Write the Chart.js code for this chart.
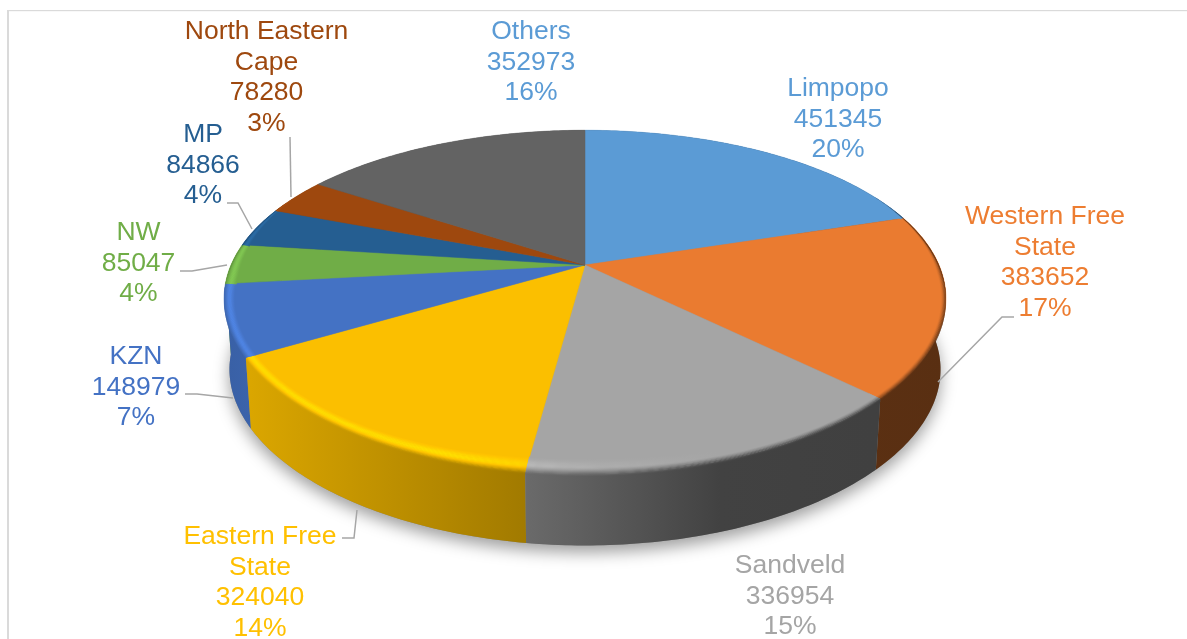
<!DOCTYPE html>
<html>
<head>
<meta charset="utf-8">
<title>Regions</title>
<script src="https://cdn.jsdelivr.net/npm/chart.js@4"></script>
<style>
    html, body { margin: 0; padding: 0; background: #fff; overflow: hidden; }
    canvas { display: block; }
</style>
</head>
<body>
<canvas id="region-chart" width="1187" height="639"></canvas>
<script>
const regions = ["Limpopo", "Western Free State", "Sandveld", "Eastern Free State", "KZN", "NW", "MP", "North Eastern Cape", "Others"];
const totals = [451345, 383652, 336954, 324040, 148979, 85047, 84866, 78280, 352973];
const sliceColors = ["#5B9BD5", "#EA7B30", "#A5A5A5", "#FBBF00", "#4472C4", "#70AD47", "#255E91", "#9E480E", "#636363"];
const textColors = ["#5B9BD5", "#ED7D31", "#A5A5A5", "#FFC000", "#4472C4", "#70AD47", "#255E91", "#9E480E", "#5B9BD5"];

// wrapped name, text centre and first baseline of every label
const labelLines = [["Limpopo"], ["Western Free", "State"], ["Sandveld"], ["Eastern Free", "State"], ["KZN"], ["NW"], ["MP"], ["North Eastern", "Cape"], ["Others"]];
const labelX = [838, 1045, 790, 260, 136, 138.5, 203, 266.5, 531];
const labelY = [96, 224, 573, 544, 364, 240, 142, 39, 39];
const leaders = [
    null,
    [[1014, 317], [1002, 317], [938, 382]],
    null,
    [[342, 538], [354, 538], [357, 510]],
    [[185, 394], [197, 394], [233, 398]],
    [[180, 271], [192, 271], [227, 265]],
    [[227, 203], [238, 203], [252, 229]],
    [[290, 137], [291, 197]],
    null
];

// tilted disc: the apex sits above the middle of the ellipse because of the perspective
const apexX = 585, apexY = 265;
const spanX = 354, spanY = 164, tiltX = 0.195, tiltY = 0.217;
const depth = 71, floorScale = 0.985;
const lineHeight = 30.7;

const topPoint = (t) => {
    const c = Math.cos(t), s = Math.sin(t);
    return [apexX + spanX * s / (1 + tiltX * c), apexY - spanY * c / (1 + tiltY * c)];
};

const floorPoint = (t) => {
    const c = Math.cos(t), s = Math.sin(t);
    return [apexX + floorScale * spanX * s / (1 + tiltX * c), apexY + depth - spanY * c / (1 + tiltY * c)];
};

const sweep = (from, to) => {
    const steps = Math.max(2, Math.ceil(Math.abs(to - from) / 0.015));
    const list = [];
    for (let i = 0; i <= steps; i++) {
        list.push(from + (to - from) * i / steps);
    }
    return list;
};

const tracePoints = (ctx, pts) => {
    pts.forEach((p, i) => i === 0 ? ctx.moveTo(p[0], p[1]) : ctx.lineTo(p[0], p[1]));
};

const hexToRgb = (hex) => [1, 3, 5].map(i => parseInt(hex.slice(i, i + 2), 16));

const lerpStops = (stops, x) => {
    if (x <= stops[0][0]) return stops[0][1];
    for (let i = 1; i < stops.length; i++) {
        if (x <= stops[i][0]) {
            const k = (x - stops[i - 1][0]) / (stops[i][0] - stops[i - 1][0]);
            return stops[i - 1][1] + (stops[i][1] - stops[i - 1][1]) * k;
        }
    }
    return stops[stops.length - 1][1];
};

// light falls from the left: walls darken to the right, the rim only glints on the left
const wallShade = [[225, 0.84], [250, 0.87], [527, 0.64], [720, 0.4], [950, 0.38]];
const rimGlint = [[225, 1.17], [450, 1.17], [600, 1.05], [700, 1], [950, 1]];
const gradientXs = [225, 250, 350, 450, 527, 600, 720, 950];
const gradientMin = 225, gradientMax = 950;
const glintAt = 0.45;

const shadeCss = (rgb, f) => `rgb(${rgb.map(c => Math.min(255, Math.round(c * f))).join(",")})`;

const wallGradient = (ctx, rgb) => {
    const g = ctx.createLinearGradient(gradientMin, 0, gradientMax, 0);
    gradientXs.forEach(x => g.addColorStop((x - gradientMin) / (gradientMax - gradientMin), shadeCss(rgb, lerpStops(wallShade, x))));
    return g;
};

const smooth = (k) => k * k * (3 - 2 * k);

const bevelGradient = (ctx, rgb, s) => {
    const g = ctx.createLinearGradient(gradientMin, 0, gradientMax, 0);
    gradientXs.forEach(x => {
        const glint = lerpStops(rimGlint, x);
        const f = s < glintAt
            ? 1 + (glint - 1) * smooth(s / glintAt)
            : glint + (lerpStops(wallShade, x) - glint) * smooth((s - glintAt) / (1 - glintAt));
        g.addColorStop((x - gradientMin) / (gradientMax - gradientMin), shadeCss(rgb, f));
    });
    return g;
};

const bevelWidth = (t) => Math.max(0, Math.min(1, (0.45 - Math.cos(t)) / 0.5));

// s runs across the rounded edge: 0 well inside the face, 1 just past the rim on the wall
const bevelPoint = (t, s) => {
    const rim = topPoint(t);
    const off = (16 - 18.5 * s) * bevelWidth(t);
    if (off < 0) return [rim[0], rim[1] - off];
    const dx = apexX - rim[0], dy = apexY + 35 - rim[1];
    const len = Math.hypot(dx, dy);
    return [rim[0] + 0.7 * off * dx / len, rim[1] + off * dy / len];
};

const drawBody = (ctx, arcs) => {
    const ring = sweep(0, Math.PI * 2);

    // soft shadow under the disc
    ctx.save();
    ctx.shadowColor = "rgba(0,0,0,0.38)";
    ctx.shadowBlur = 16;
    ctx.shadowOffsetY = 7;
    ctx.fillStyle = "#888";
    ctx.beginPath();
    tracePoints(ctx, ring.map(floorPoint));
    ctx.closePath();
    ctx.fill();
    ctx.restore();

    // outer walls, far slices first so the near ones cover them
    const farFirst = arcs.map((arc, i) => i).sort((a, b) =>
        Math.cos((arcs[b].from + arcs[b].to) / 2) - Math.cos((arcs[a].from + arcs[a].to) / 2));
    farFirst.forEach(i => {
        const angles = sweep(arcs[i].from, arcs[i].to);
        ctx.fillStyle = wallGradient(ctx, hexToRgb(sliceColors[i]));
        ctx.beginPath();
        tracePoints(ctx, angles.map(topPoint));
        angles.slice().reverse().forEach(t => {
            const p = floorPoint(t);
            ctx.lineTo(p[0], p[1]);
        });
        ctx.closePath();
        ctx.fill();
    });

    // flat top face
    arcs.forEach((arc, i) => {
        ctx.fillStyle = sliceColors[i];
        ctx.strokeStyle = sliceColors[i];
        ctx.lineWidth = 0.5;
        ctx.beginPath();
        ctx.moveTo(apexX, apexY);
        sweep(arc.from, arc.to).map(topPoint).forEach(p => ctx.lineTo(p[0], p[1]));
        ctx.closePath();
        ctx.fill();
        ctx.stroke();
    });

    // rounded edge along the near side
    const bands = 18;
    const limitA = 1.1, limitB = Math.PI * 2 - 1.1;
    arcs.forEach((arc, i) => {
        const from = Math.max(arc.from, limitA);
        const to = Math.min(arc.to, limitB);
        if (from >= to) return;
        const angles = sweep(from, to);
        const rgb = hexToRgb(sliceColors[i]);
        for (let b = 0; b < bands; b++) {
            const s0 = b / bands, s1 = Math.min(1, (b + 1.25) / bands);
            ctx.fillStyle = bevelGradient(ctx, rgb, (b + 0.5) / bands);
            ctx.beginPath();
            tracePoints(ctx, angles.map(t => bevelPoint(t, s0)));
            angles.slice().reverse().forEach(t => {
                const p = bevelPoint(t, s1);
                ctx.lineTo(p[0], p[1]);
            });
            ctx.closePath();
            ctx.fill();
        }
    });
};

const drawLabels = (ctx, sum) => {
    ctx.textAlign = "center";
    ctx.textBaseline = "alphabetic";
    ctx.font = "26.5px 'Liberation Sans', Arial, sans-serif";
    regions.forEach((name, i) => {
        const rows = labelLines[i].concat([String(totals[i]), `${Math.round(totals[i] / sum * 100)}%`]);
        ctx.fillStyle = textColors[i];
        rows.forEach((row, r) => ctx.fillText(row, labelX[i], labelY[i] + r * lineHeight));
    });

    ctx.strokeStyle = "#A6A6A6";
    ctx.lineWidth = 1.5;
    leaders.forEach(points => {
        if (!points) return;
        ctx.beginPath();
        tracePoints(ctx, points);
        ctx.stroke();
    });
};

const solidPie = {
    id: "solidPie",
    beforeDatasetsDraw(chart) {
        const ctx = chart.ctx;
        const arcs = chart.getDatasetMeta(0).data.map(el => {
            const props = el.getProps(["startAngle", "endAngle"], true);
            return { from: props.startAngle + Math.PI / 2, to: props.endAngle + Math.PI / 2 };
        });

        ctx.save();
        // frame of the chart area, cut off by the page on the right and bottom
        ctx.fillStyle = "#DADADA";
        ctx.fillRect(7, 10, 2, 629);
        ctx.fillRect(7, 10, 1180, 1.2);
        drawBody(ctx, arcs);
        drawLabels(ctx, totals.reduce((a, b) => a + b, 0));
        ctx.restore();
        return false;
    }
};

window.onload = () => {
    new Chart(document.getElementById("region-chart").getContext("2d"), {
        type: "pie",
        data: {
            labels: regions,
            datasets: [{ data: totals, backgroundColor: sliceColors, borderWidth: 0 }]
        },
        options: {
            responsive: false,
            animation: false,
            plugins: {
                legend: { display: false },
                tooltip: { enabled: false }
            }
        },
        plugins: [solidPie]
    });
};
</script>
</body>
</html>
